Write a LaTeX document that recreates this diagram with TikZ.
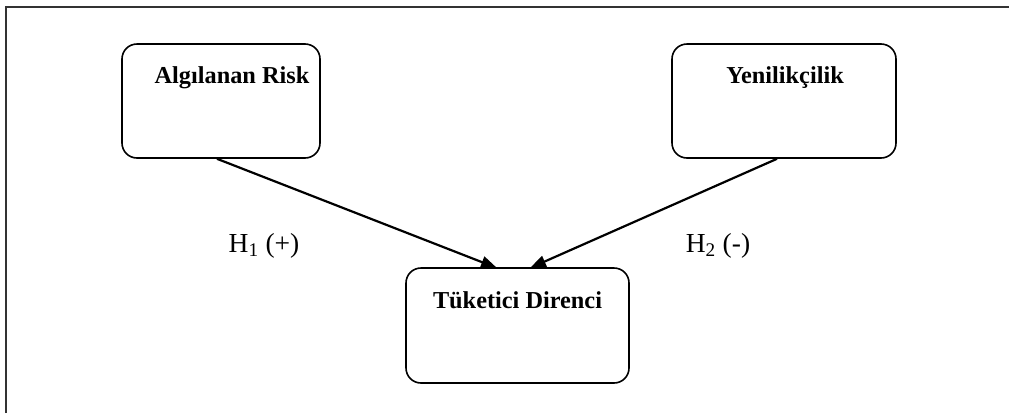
\documentclass[tikz,border=0pt]{standalone}
\usepackage{fontspec}
\setmainfont{Liberation Serif}
\usetikzlibrary{arrows.meta}
\tikzset{
  box/.style={draw=black, line width=1.6pt, rounded corners=15pt, inner sep=0pt},
  title/.style={font=\fontsize{24.3}{28}\selectfont\bfseries, anchor=base, inner sep=0pt},
  hyp/.style={font=\fontsize{27.5}{32}\selectfont, anchor=base, inner sep=0pt},
  link/.style={line width=2.2pt, -{Triangle[length=16pt,width=12pt]}},
}
\begin{document}
\begin{tikzpicture}[x=1pt,y=-1pt]
\useasboundingbox (0,0) rectangle (1009,413);
\draw[line width=2pt, black!80] (6,413) -- (6,7) -- (1009,7);
\node[box, minimum width=198pt, minimum height=114pt] (ar) at (221,101) {};
\node[box, minimum width=224pt, minimum height=114pt] (yn) at (784,101) {};
\node[box, minimum width=223pt, minimum height=115pt] (td) at (517.5,325.5) {};
\node[title] (tar) at (232,83) {Algılanan Risk};
\node[title] (tyn) at (785,83) {Yenilikçilik};
\node[title] (ttd) at (517.5,308) {Tüketici Direnci};
\coordinate (tipL) at (497,268);
\coordinate (tipR) at (530,268);
\draw[link] (ar.south) ++(-4,0) -- (tipL);
\draw[link] (yn.south) ++(-7,0) -- (tipR);
\node[hyp] (h1) at (264,252) {H\textsubscript{1} (+)};
\node[hyp] (h2) at (718,252) {H\textsubscript{2} (-)};
\end{tikzpicture}
\end{document}
